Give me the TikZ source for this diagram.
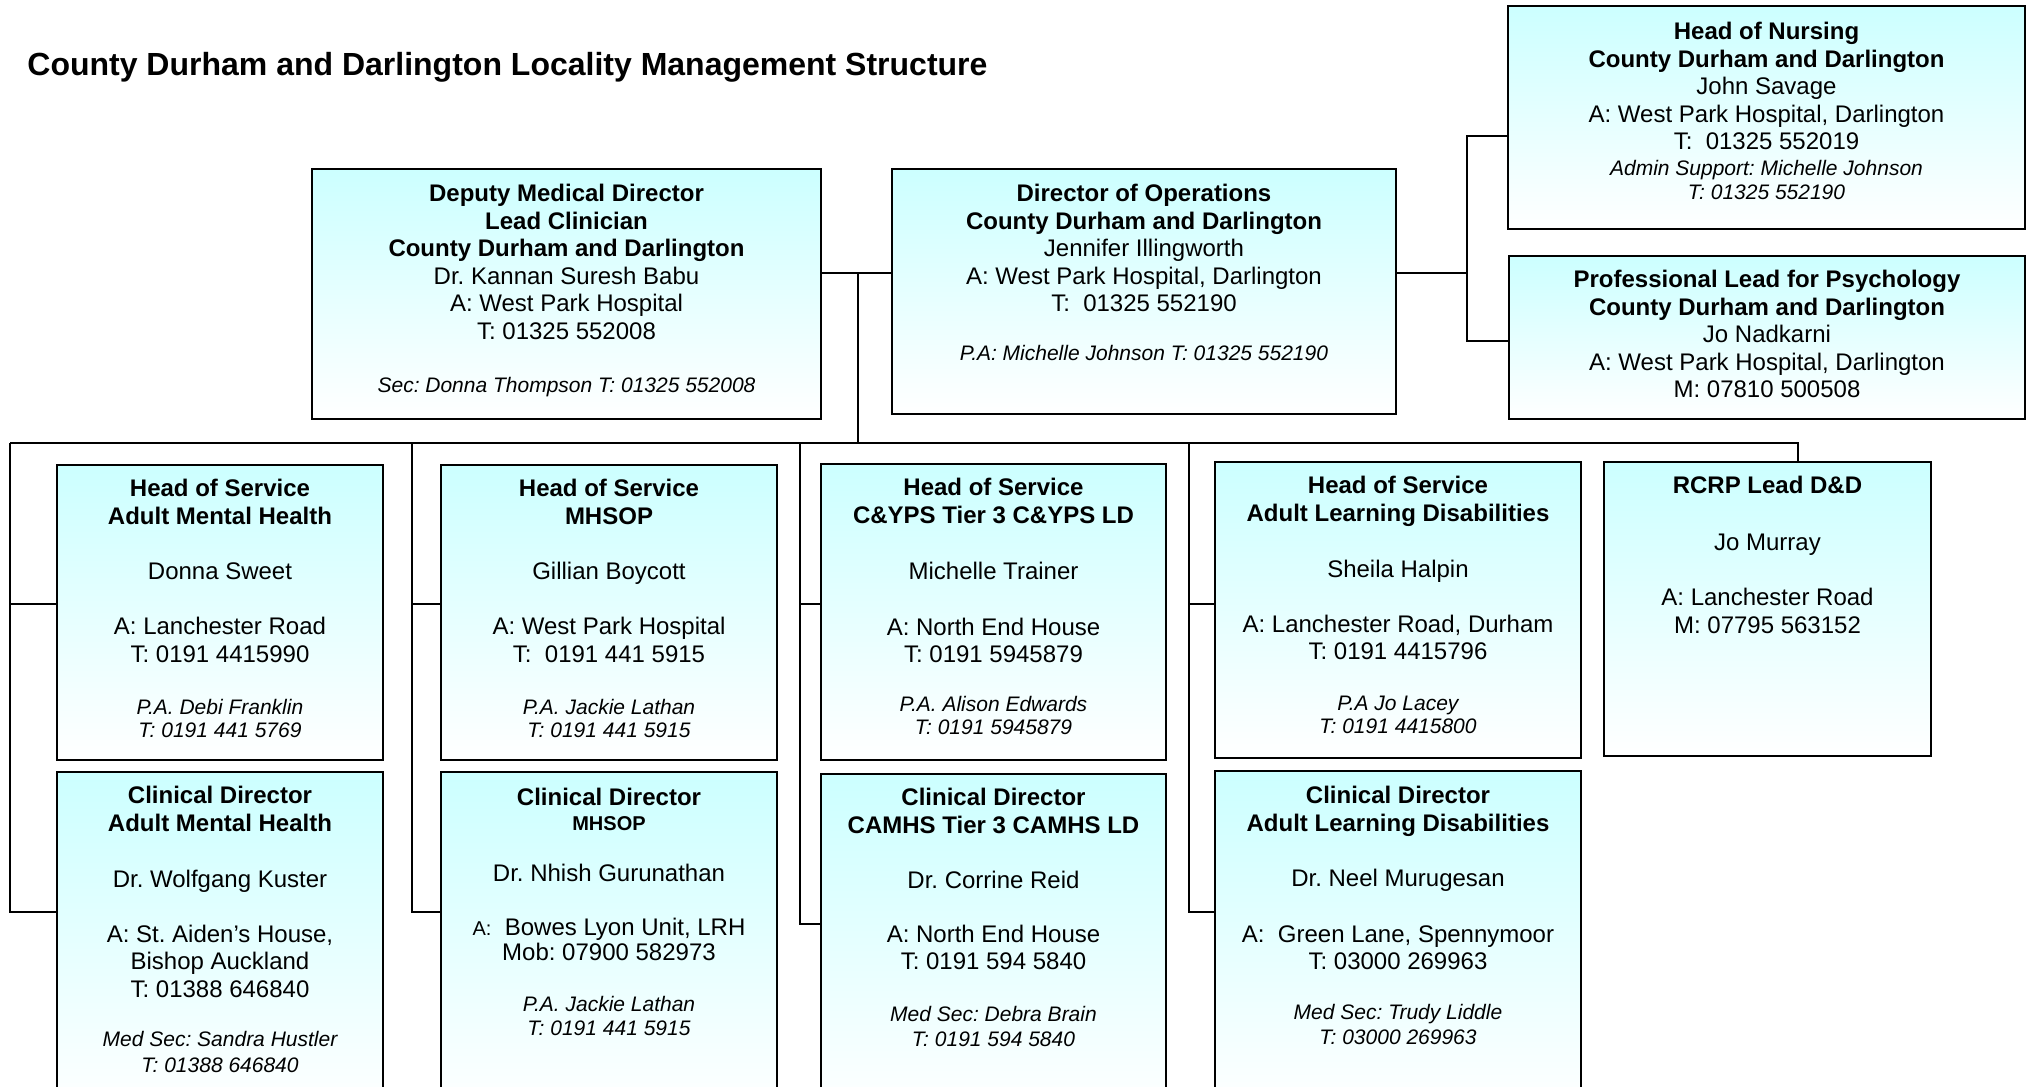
\documentclass[tikz,border=0pt]{standalone}
\usepackage{fontspec}
\setmainfont{Liberation Sans}
\usepackage{tikz}
\usetikzlibrary{positioning,calc}
\frenchspacing
\definecolor{boxtop}{RGB}{204,255,255}
\tikzset{
  box/.style     = {draw, line width=1pt, rectangle, top color=boxtop,
                    bottom color=white, anchor=north west, inner sep=0pt},
  txt/.style     = {align=center, inner sep=0pt,
                    font=\fontsize{12}{13.75}\selectfont},
  heading/.style = {anchor=west, inner sep=0pt,
                    font=\fontsize{16}{19}\selectfont\bfseries},
  link/.style    = {draw, line width=1pt}
}
\newcommand{\hd}[1]{\textbf{#1}}
\newcommand{\sml}[1]{{\fontsize{10.5}{12}\selectfont\itshape #1}}

\begin{document}
\begin{tikzpicture}[x=0.5pt,y=-0.5pt]
  \useasboundingbox (0,0) rectangle (2026,1087);
  \node[heading] (title) at (27,67)
    {County Durham and Darlington Locality Management Structure};

  % top level
  \node[box, minimum width=254.5pt, minimum height=125pt] (dmd) at (311,168) {};
  \node[txt, below=8pt of dmd.north] (dmd-t)
    {\hd{Deputy Medical Director}\\ \hd{Lead Clinician}\\
     \hd{County Durham and Darlington}\\ Dr. Kannan Suresh Babu\\
     A: West Park Hospital\\ T: 01325 552008\\[12.75pt]
     \sml{Sec: Donna Thompson T: 01325 552008}};
  \node[box, minimum width=252pt, minimum height=122.5pt] (dop) at (891,168) {};
  \node[txt, below=8pt of dop.north] (dop-t)
    {\hd{Director of Operations}\\ \hd{County Durham and Darlington}\\
     Jennifer Illingworth\\ A: West Park Hospital, Darlington\\
     T:~ 01325 552190\\[10.75pt]
     \sml{P.A: Michelle Johnson T: 01325 552190}};
  \node[box, minimum width=258.5pt, minimum height=111.5pt] (hon) at (1507,5) {};
  \node[txt, below=8.5pt of hon.north] (hon-t)
    {\hd{Head of Nursing}\\ \hd{County Durham and Darlington}\\
     John Savage\\ A: West Park Hospital, Darlington\\
     T:~ 01325 552019\\[-0.75pt]
     \sml{Admin Support: Michelle Johnson}\\[-1.75pt]
     \sml{T: 01325 552190}};
  \node[box, minimum width=258pt, minimum height=81.5pt] (plp) at (1508,255) {};
  \node[txt, below=7.5pt of plp.north] (plp-t)
    {\hd{Professional Lead for Psychology}\\ \hd{County Durham and Darlington}\\
     Jo Nadkarni\\ A: West Park Hospital, Darlington\\ M: 07810 500508};

  % heads of service
  \node[box, minimum width=163pt, minimum height=147.5pt] (hsAMH) at (56,464) {};
  \node[txt, below=7.5pt of hsAMH.north] (hsAMH-t)
    {\hd{Head of Service}\\ \hd{Adult Mental Health}\\[14pt]
     Donna Sweet\\[13.75pt]
     A: Lanchester Road\\ T: 0191 4415990\\[12.25pt]
     \sml{P.A. Debi Franklin}\\[-2pt] \sml{T: 0191 441 5769}};
  \node[box, minimum width=168pt, minimum height=147.5pt] (hsMHSOP) at (440,464) {};
  \node[txt, below=7.5pt of hsMHSOP.north] (hsMHSOP-t)
    {\hd{Head of Service}\\ \hd{MHSOP}\\[14pt]
     Gillian Boycott\\[13.75pt]
     A: West Park Hospital\\ T:~ 0191 441 5915\\[12.25pt]
     \sml{P.A. Jackie Lathan}\\[-2pt] \sml{T: 0191 441 5915}};
  \node[box, minimum width=172.5pt, minimum height=148pt] (hsCYPS) at (820,463) {};
  \node[txt, below=7.5pt of hsCYPS.north] (hsCYPS-t)
    {\hd{Head of Service}\\ \hd{C\&YPS Tier 3 C\&YPS LD}\\[14.25pt]
     Michelle Trainer\\[14.25pt]
     A: North End House\\ T: 0191 5945879\\[10.75pt]
     \sml{P.A. Alison Edwards}\\[-2.25pt] \sml{T: 0191 5945879}};
  \node[box, minimum width=183pt, minimum height=148pt] (hsALD) at (1214,461) {};
  \node[txt, below=7.5pt of hsALD.north] (hsALD-t)
    {\hd{Head of Service}\\ \hd{Adult Learning Disabilities}\\[14.25pt]
     Sheila Halpin\\[13.75pt]
     A: Lanchester Road, Durham\\ T: 0191 4415796\\[11.75pt]
     \sml{P.A Jo Lacey}\\[-2.25pt] \sml{T: 0191 4415800}};
  \node[box, minimum width=163.5pt, minimum height=147pt] (rcrp) at (1603,461) {};
  \node[txt, below=7.5pt of rcrp.north] (rcrp-t)
    {\hd{RCRP Lead D\&D}\\[14.75pt]
     Jo Murray\\[13.75pt]
     A: Lanchester Road\\ M: 07795 563152};

  % clinical directors
  \node[box, minimum width=163pt, minimum height=170pt] (cdAMH) at (56,771) {};
  \node[txt, below=7.5pt of cdAMH.north] (cdAMH-t)
    {\hd{Clinical Director}\\ \hd{Adult Mental Health}\\[14.25pt]
     Dr. Wolfgang Kuster\\[13.75pt]
     A: St. Aiden’s House,\\ Bishop Auckland\\ T: 01388 646840\\[11pt]
     \sml{Med Sec: Sandra Hustler}\\[-1pt] \sml{T: 01388 646840}};
  \node[box, minimum width=168pt, minimum height=170pt] (cdMHSOP) at (440,771) {};
  \node[txt, below=8.5pt of cdMHSOP.north] (cdMHSOP-t)
    {\hd{Clinical Director}\\[-1.25pt]
     {\fontsize{10}{12}\selectfont\bfseries MHSOP}\\[11.75pt]
     Dr. Nhish Gurunathan\\[13.25pt]
     {\fontsize{10}{12}\selectfont A:}~ Bowes Lyon Unit, LRH\\[-1.25pt]
     Mob: 07900 582973\\[11.75pt]
     \sml{P.A. Jackie Lathan}\\[-1.75pt] \sml{T: 0191 441 5915}};
  \node[box, minimum width=172.5pt, minimum height=170pt] (cdCAMHS) at (820,773) {};
  \node[txt, below=7.5pt of cdCAMHS.north] (cdCAMHS-t)
    {\hd{Clinical Director}\\ \hd{CAMHS Tier 3 CAMHS LD}\\[13.75pt]
     Dr. Corrine Reid\\[13.25pt]
     A: North End House\\ T: 0191 594 5840\\[12.25pt]
     \sml{Med Sec: Debra Brain}\\[-1.25pt] \sml{T: 0191 594 5840}};
  \node[box, minimum width=183pt, minimum height=170pt] (cdALD) at (1214,770) {};
  \node[txt, below=8pt of cdALD.north] (cdALD-t)
    {\hd{Clinical Director}\\ \hd{Adult Learning Disabilities}\\[14pt]
     Dr. Neel Murugesan\\[14pt]
     A:~ Green Lane, Spennymoor\\ T: 03000 269963\\[11pt]
     \sml{Med Sec: Trudy Liddle}\\[-1.25pt] \sml{T: 03000 269963}};

  % connectors
  \coordinate (topj) at (858,273);
  \coordinate (rjt)  at (1467,136);
  \coordinate (rjm)  at (1467,273);
  \coordinate (rjb)  at (1467,341);
  \coordinate (busl) at (10,443);
  \coordinate (busr) at (1798,443);
  \coordinate (c2)   at (411.5,443);
  \coordinate (c3)   at (800,443);
  \coordinate (c4)   at (1189,443);
  \coordinate (rowa) at (0,604);
  \coordinate (rowb) at (0,912);
  \coordinate (rowc) at (0,924);

  \draw[link] (dmd.east |- topj) -- (dop.west |- topj);
  \draw[link] (topj) -- (topj |- busl);
  \draw[link] (dop.east |- rjm) -- (rjm);
  \draw[link] (hon.west |- rjt) -- (rjt) -- (rjb) -- (plp.west |- rjb);
  \draw[link] (busl) -- (busr) -- (busr |- rcrp.north);
  \draw[link] (busl) |- (hsAMH.west |- rowa);
  \draw[link] (busl) |- (cdAMH.west |- rowb);
  \draw[link] (c2) |- (hsMHSOP.west |- rowa);
  \draw[link] (c2) |- (cdMHSOP.west |- rowb);
  \draw[link] (c3) |- (hsCYPS.west |- rowa);
  \draw[link] (c3) |- (cdCAMHS.west |- rowc);
  \draw[link] (c4) |- (hsALD.west |- rowa);
  \draw[link] (c4) |- (cdALD.west |- rowb);
\end{tikzpicture}
\end{document}
